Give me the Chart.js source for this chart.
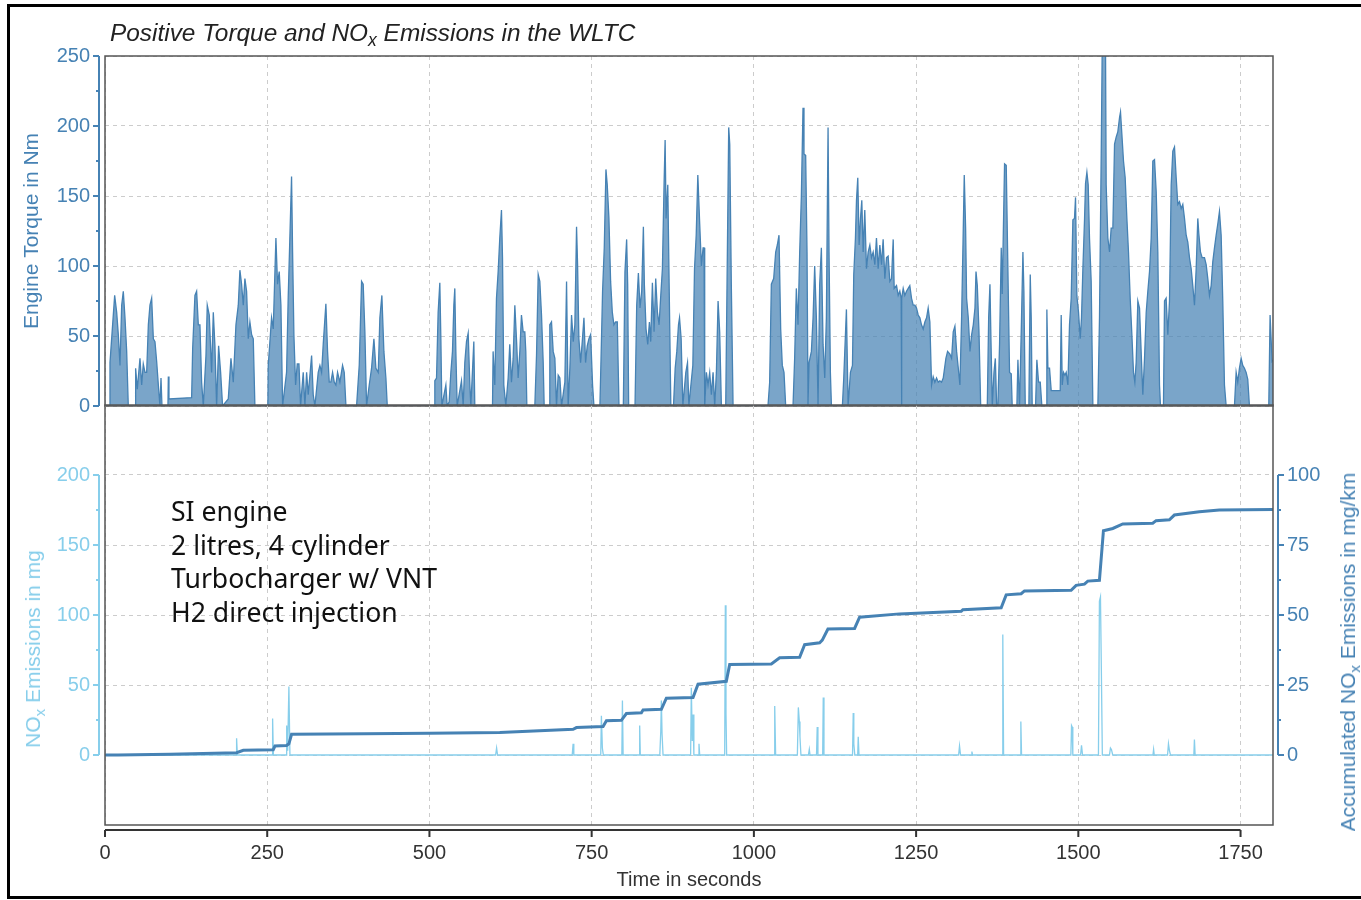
<!DOCTYPE html>
<html>
<head>
<meta charset="utf-8">
<script src="https://cdn.jsdelivr.net/npm/chart.js@4.4.1/dist/chart.umd.min.js"></script>
<style>
  html, body { margin: 0; padding: 0; background: #fff; }
  #page { position: relative; width: 1361px; height: 900px; overflow: hidden; background: #fff; }
  #frame { position: absolute; left: 7px; top: 4px; width: 1400px; height: 895px; border: 3px solid #000; box-sizing: border-box; }
  canvas { position: absolute; left: 0; }
  #top { top: 0; }
  #bot { top: 378px; }
  .txt { position: absolute; white-space: nowrap; font-family: "Liberation Sans", Arial, sans-serif; }
  #title { left: 110px; top: 21px; font-size: 24.4px; line-height: 24px; font-style: italic; color: #222; }
  .vlab { font-size: 21px; line-height: 24px; transform: translate(-50%, -50%) rotate(-90deg); }
  sub { font-size: 0.72em; vertical-align: -0.3em; line-height: 0; }
  #note { position: absolute; left: 171px; top: 495px; font-family: "Noto Sans", sans-serif; font-size: 26.6px; line-height: 33.5px; color: #111; white-space: nowrap; }
</style>
</head>
<body>
<div id="page">
  <div id="frame"></div>
  <canvas id="top" width="1361" height="433"></canvas>
  <canvas id="bot" width="1361" height="522"></canvas>
  <div id="title" class="txt">Positive Torque and NO<sub>x</sub> Emissions in the WLTC</div>
  <div class="txt vlab" style="left:33px; top:649px; color:#87ceeb;">NO<sub>x</sub> Emissions in mg</div>
  <div class="txt vlab" style="left:1348px; top:652px; color:#4682b4;">Accumulated NO<sub>x</sub> Emissions in mg/km</div>
  <div id="note">SI engine<br>2 litres, 4 cylinder<br>Turbocharger w/ VNT<br>H2 direct injection</div>
</div>
<script>
// tick values
const timeTicks = [0, 250, 500, 750, 1000, 1250, 1500, 1750];
const torqueTicks = [0, 50, 100, 150, 200, 250];
const noxTicks = [0, 50, 100, 150, 200];
const accTicks = [0, 25, 50, 75, 100];

// engine torque (Nm) over time (s)
const torqueTime = [
  0, 7, 7.7, 14.9, 18, 20.5, 23.1, 25.7, 28.2, 30.8, 33.4, 35.9,
  47, 47.2, 49.8, 53.9, 56.5, 59, 61.6, 64.2, 66.8, 69.3, 71.9, 74.5, 77, 79.6, 82.2, 84.7, 86.3, 87.8,
  97, 97.6, 98.6, 133.5, 135.1, 138.6, 141.2, 143.8, 146.3, 148.9, 151.5,
  155.6, 157.6, 160.7, 164.3, 166.9, 169.4, 172, 175.1, 178.2, 181.2,
  190, 194.1, 197.7, 201.8, 205.4, 207.9, 210.5, 213.1, 215.6, 218.2, 220.8, 223.3, 225.9, 228.5, 231,
  251, 251.6, 256.7, 259.3, 263.4, 265.9, 268.5, 271.1, 273.7,
  279.8, 282.4, 285, 287.5, 289.1, 291.1, 293.7, 296.3, 298.9, 301.4,
  305.5, 308.1, 310.7, 313.2, 318.4, 320.9, 323.5,
  328.6, 331.2, 333.8, 336.3, 340.4, 343, 345.6, 348.1, 350.7, 353.3, 355.8, 358.4, 362, 366.1, 368.7, 371.3,
  387.7, 391.8, 395.4, 397.9, 400.5, 403.1,
  407.2, 410.8, 414.4, 417.5, 421.1, 423.6, 426.7, 429.8, 432.9, 435,
  508, 508.3, 510.9, 513.4, 516, 517.6, 519.1,
  525.3, 527.3, 530.4, 533, 535.5, 537.6, 539.1, 540.7, 542.7,
  549.4, 552, 554.5, 557.1, 559.7, 562.3, 563.8, 568.4, 569.9,
  597.2, 598.1, 600.7, 603.3, 605.9, 608.4, 611, 612.6, 614.6, 617.7,
  621.3, 623.8, 626.4, 629, 631.6, 634.1, 636.7, 639.3, 641.8, 644.4, 647, 648.5, 650.1,
  662.4, 665, 667.6, 670.1, 672.7, 675.3, 676.8,
  684.5, 685.5, 688.1, 690.7, 693.3, 695.8, 698.4, 701, 703.6,
  708.7, 711.3, 713.8, 716.4, 719, 721.6, 724.1, 726.7, 728.3, 730.3, 732.9, 735.5, 738.1, 740.6, 743.2, 745.8, 748.4, 751.4, 753.5,
  762.7, 764.3, 766.8, 769.4, 772, 774, 776.6, 779.2, 781.8, 784.3, 786.9, 789.5, 792.1,
  798.8, 801.3, 803.9, 805.5, 807,
  816.8, 819.4, 822, 824.5, 827.1, 829.7, 831.2, 833.8, 836.4, 839, 841, 843.6, 846.2, 848.7, 851.3, 853.9, 856.5, 859, 861.6, 863.2, 864.7, 867.3, 869.4, 872,
  876.1, 878.7, 881.2, 883.8, 885.4, 887.9, 890.5, 895.1, 897.7, 899.8,
  905.9, 908.5, 911.1, 913.6, 916.5, 919.1, 921.7, 923.2, 924.2,
  926.8, 929.3, 931.9, 934.5, 937.1, 939.6, 942.2, 944.8, 947.3, 949.9,
  956.6, 958.7, 961.2, 962.8, 965.3, 967.9,
  1021.7, 1024.3, 1026.9, 1030.5, 1033.6, 1036.1, 1038.7, 1041.3, 1043.8, 1046.4, 1049,
  1060.3, 1062.8, 1065.4, 1068, 1070.6, 1073.1, 1075.7, 1077.2, 1079.8, 1081.9, 1083.4,
  1085, 1088.6, 1091.2, 1093.7, 1096.3, 1098.9, 1101.4, 1104, 1106.6, 1109.2, 1111.7, 1114.3, 1115.8, 1117.9, 1119.5,
  1136.4, 1138.5, 1142.6, 1145.2, 1148.8, 1151.9,
  1153.9, 1156.5, 1158.1, 1160.1, 1162.2, 1164.3, 1166.3, 1168.4, 1170.9, 1173.5, 1176.1, 1178.7, 1181.2, 1183.8, 1186.4, 1188.9, 1191.5, 1194.1, 1196.7, 1199.2,
  1201.8, 1204.4, 1206.9, 1209.5, 1212.1, 1214.7, 1216.2, 1219.8, 1222.4, 1224.9, 1227, 1227.5, 1228, 1230.1, 1232.6, 1235.2, 1237.8, 1240.3,
  1242.9, 1245.5, 1248.1, 1250.6, 1253.2, 1255.8, 1258.3, 1260.9, 1263.5, 1266.1, 1268.6, 1271.2, 1273.8,
  1276.3, 1278.9, 1281.5, 1284.1, 1286.6, 1289.2, 1291.8, 1295.9, 1298.5, 1302.1, 1304.7, 1307.2, 1309.8, 1312.4, 1315, 1317.5,
  1320.1, 1322.7, 1324.2, 1326.3, 1327.8, 1330.4, 1333, 1335.6, 1338.1, 1340.7, 1342.3, 1344.3, 1346.9, 1349.5,
  1359.7, 1361.8, 1363.8, 1365.4, 1367.4, 1370, 1372.1, 1374.1, 1376,
  1378.6, 1381.2, 1382.7, 1386.3, 1388.9, 1391.5, 1394, 1396.6, 1398.1,
  1405.3, 1406.9, 1409.4, 1412, 1414.6, 1416.1, 1418.2,
  1423.8, 1425.9, 1427.4, 1428.9, 1434.1, 1436.1, 1438.7, 1441.3, 1443.8,
  1450.5, 1451.5, 1453.1, 1455.6, 1458.2, 1472.1, 1473.6, 1475.2, 1477.2, 1479.3, 1481.3, 1483.9,
  1486.4, 1489, 1491.6, 1494.1, 1495.7, 1497.7, 1500.3, 1502.9, 1504.9, 1507, 1509.6, 1511.1, 1513.2, 1515.2, 1517.2, 1519.8, 1522.4,
  1530.1, 1532.6, 1535.2, 1536.8, 1539.3, 1541.9, 1542.9, 1545.5, 1548.1, 1550.6, 1553.2, 1555.8, 1558.3,
  1560.9, 1563.5, 1565, 1567.1, 1569.6, 1572.2, 1574.8, 1577.3, 1579.9, 1582.5, 1585, 1587.1,
  1589.1, 1591.7, 1594.3, 1596.8, 1599.4, 1602, 1604.6, 1607.1, 1609.7, 1612.3, 1614.8, 1617.4, 1620, 1622.5, 1625.1, 1626.6,
  1631.2, 1632.8, 1635.3, 1637.9, 1640.5, 1643.1, 1645.6, 1648.2, 1650.8, 1653.3, 1655.9, 1658.5, 1661, 1663.6, 1666.2, 1668.7, 1671.3, 1673.9, 1676.4, 1679,
  1681.6, 1684.1, 1685.7, 1688.2, 1690.8, 1694.4, 1697, 1699.5, 1702.1, 1704.7, 1707.2, 1709.8, 1712.4, 1714.9, 1717.5, 1720.1, 1722.6, 1725.2, 1727.8,
  1740.6, 1743.2, 1745.7, 1748.3, 1750.9, 1753.4, 1756, 1758.6, 1761.1, 1763.7, 1793.5, 1795.5, 1798.6, 1800
];
const torqueNm = [
  0, 0, 31, 79, 67, 51, 29, 72, 82, 63, 39, 0,
  0, 27, 12, 34, 15, 30, 24, 24, 58, 72, 77, 48, 46, 32, 15, 0, 20, 0,
  0, 21, 5, 6, 41, 79, 82, 58, 58, 17, 0,
  36, 72, 65, 24, 67, 43, 0, 43, 24, 0,
  5, 34, 17, 58, 72, 97, 87, 72, 91, 82, 48, 60, 51, 48, 0,
  0, 29, 63, 55, 120, 87, 96, 72, 0,
  24, 79, 122, 164, 110, 51, 15, 30, 30, 0,
  24, 0, 24, 8, 36, 8, 0,
  24, 29, 24, 44, 73, 39, 17, 17, 24, 17, 15, 24, 17, 29, 24, 0,
  0, 29, 89, 87, 53, 0,
  15, 27, 48, 27, 24, 63, 79, 39, 20, 0,
  0, 18, 20, 67, 88, 48, 0,
  15, 0, 3, 24, 39, 72, 84, 39, 0,
  18, 0, 31, 46, 52, 15, 0, 46, 0,
  0, 39, 15, 77, 96, 120, 140, 106, 15, 0,
  20, 44, 17, 34, 72, 48, 20, 39, 65, 53, 53, 39, 0,
  0, 36, 94, 89, 65, 31, 0,
  0, 58, 60, 39, 34, 0, 22, 20, 0,
  17, 89, 0, 27, 65, 46, 58, 128, 101, 48, 31, 46, 63, 31, 43, 48, 51, 15, 0,
  0, 31, 82, 113, 169, 158, 134, 89, 67, 58, 60, 60, 0,
  0, 96, 119, 87, 0,
  0, 72, 95, 70, 82, 128, 87, 55, 44, 60, 46, 88, 53, 91, 67, 58, 79, 98, 159, 190, 134, 158, 87, 0,
  0, 27, 39, 58, 63, 48, 0, 24, 31, 0,
  29, 98, 122, 165, 130, 100, 113, 113, 0,
  24, 15, 24, 8, 24, 0, 24, 75, 53, 0,
  0, 91, 199, 187, 84, 0,
  0, 17, 87, 91, 110, 115, 122, 55, 29, 24, 0,
  0, 34, 84, 58, 110, 149, 213, 180, 179, 110, 0,
  31, 39, 63, 100, 63, 0, 87, 113, 44, 20, 63, 199, 110, 24, 0,
  0, 20, 69, 0, 24, 29,
  94, 120, 147, 163, 115, 134, 147, 110, 140, 98, 110, 115, 106, 110, 101, 120, 98, 115, 101, 119,
  91, 106, 107, 89, 91, 119, 84, 86, 79, 82, 77, 0, 77, 84, 79, 82, 84, 86,
  77, 72, 72, 70, 65, 63, 58, 55, 60, 63, 70, 60, 15,
  21, 17, 20, 17, 18, 17, 20, 34, 39, 37, 34, 53, 57, 39, 27, 15,
  63, 127, 165, 127, 77, 63, 39, 51, 58, 70, 96, 86, 53, 0,
  0, 63, 87, 46, 0, 24, 34, 0, 0,
  44, 113, 80, 173, 172, 96, 24, 23, 0,
  0, 33, 0, 53, 110, 82, 0,
  0, 94, 63, 0, 0, 33, 17, 17, 0,
  0, 69, 27, 27, 11, 11, 65, 15, 24, 22, 24, 15,
  58, 77, 133, 134, 149, 79, 67, 48, 63, 98, 134, 159, 167, 158, 120, 89, 0,
  0, 63, 177, 255, 255, 255, 158, 120, 110, 127, 127, 187, 192,
  196, 206, 210, 194, 175, 163, 134, 110, 77, 51, 24, 17,
  31, 75, 70, 39, 8, 34, 67, 82, 96, 120, 175, 176, 153, 110, 15, 0,
  0, 75, 77, 51, 75, 158, 182, 185, 163, 144, 146, 141, 144, 134, 122, 117, 106, 98, 86, 72,
  98, 134, 123, 110, 106, 106, 101, 91, 79, 86, 103, 113, 122, 130, 139, 122, 75, 15, 0,
  0, 24, 17, 27, 34, 29, 27, 24, 19, 0, 0, 65, 32, 33
];

// NOx emissions (mg) per second
const noxTime = [
  0, 202, 202.8, 204, 257.5, 258.3, 259.5, 279, 280, 281.5, 283.4, 285,
  602, 603.5, 605, 720, 721.4, 722.5, 764, 765, 766.5, 768, 796.5, 797.4, 798.5, 823, 824, 825,
  855, 856.5, 857.4, 858.5, 860, 902.5, 903.6, 905, 906.2, 907.5, 914.5, 915.4, 916.5, 955, 956, 957, 958,
  1031, 1032.1, 1033.5, 1067, 1068.5, 1070, 1071, 1072.5, 1084, 1085.4, 1086.5, 1096.5, 1097.6, 1098.7,
  1106, 1106.9, 1108, 1152, 1153.1, 1154, 1155.5, 1160, 1160.8, 1162,
  1315.5, 1316.9, 1318.5, 1335, 1336, 1337, 1382.5, 1383.6, 1384.8, 1410.5, 1411.4, 1412.5,
  1488.5, 1489.5, 1490.5, 1491.5, 1503.5, 1504.9, 1506.5, 1531, 1532.5, 1534.1, 1535.5, 1537,
  1548, 1549.5, 1551, 1553, 1615, 1616, 1617, 1637.5, 1638.9, 1640.5, 1642, 1678, 1678.9, 1680, 1800
];
const noxMg = [
  0, 0, 12, 0, 0, 26, 0, 0, 21, 3, 49, 0,
  0, 5, 0, 0, 8, 0, 0, 28, 5, 0, 0, 39, 0, 0, 21, 0,
  0, 17, 39, 15, 0, 0, 48, 10, 29, 0, 0, 8, 0, 0, 107, 30, 0,
  0, 35, 0, 0, 34, 24, 13, 0, 0, 4, 0, 0, 20, 0,
  0, 41, 0, 0, 30, 8, 0, 0, 13, 0,
  0, 6.5, 0, 0, 2.5, 0, 0, 86, 0, 0, 24, 0,
  0, 21, 20, 0, 0, 7, 0, 0, 110, 113, 60, 0,
  0, 5, 4, 0, 0, 4, 0, 0, 8, 3, 0, 0, 11, 0, 0
];

// accumulated NOx (mg/km)
const accTime = [
  0, 20, 100, 202.8, 213.1, 259.3, 261.9, 279.8, 283.4, 287.5,
  400, 500, 608.4, 721.4, 726.5, 767.6, 772.7, 795.8, 803.5, 826.6, 829.2, 857.4, 865.1,
  906.2, 913.9, 957.5, 962.7, 1026.9, 1039.7, 1070.5, 1078.2, 1101.3, 1105.4, 1114.1, 1155.2, 1162.9, 1224.5,
  1319.5, 1322.1, 1381.1, 1388.8, 1411.9, 1417, 1488.9, 1496.6, 1509.4, 1514.6, 1532.5, 1538.7, 1553.1, 1568.5,
  1614.7, 1619.8, 1640.3, 1648, 1686.5, 1717.3, 1800
];
const accMgKm = [
  0, 0, 0.3, 0.8, 1.7, 1.9, 3.2, 3.4, 4.0, 7.4,
  7.6, 7.8, 8.0, 9.2, 9.8, 10.2, 12.2, 12.4, 14.8, 15.1, 16.1, 16.3, 20.3,
  20.5, 25.3, 26.3, 32.3, 32.5, 34.7, 34.9, 39.4, 40.1, 41, 45, 45.2, 49.2, 50.4,
  51.3, 51.9, 52.6, 57.2, 57.6, 58.6, 58.8, 60.6, 61, 62.1, 62.4, 80.1, 80.9, 82.5,
  82.8, 83.7, 84, 85.7, 86.9, 87.5, 87.7
];

const steel = '#4682b4';
const sky = '#87ceeb';
const gridColor = '#cccccc';
const fam = '"Liberation Sans", Arial, sans-serif';

function pts(xs, ys) {
  return xs.map((x, i) => ({ x: x, y: ys[i] }));
}
function fixTicks(list) {
  return function (scale) { scale.ticks = list.map(v => ({ value: v })); };
}
const plain = v => String(v);

// R-style axis lines set a few pixels off the plot frame
function drawAxis(chart, ax) {
  const ctx = chart.ctx, s = chart.scales[ax.id], a = chart.chartArea, t = ax.ticks;
  ctx.strokeStyle = ax.color;
  ctx.lineWidth = 2;
  ctx.beginPath();
  if (ax.side === 'bottom') {
    const y = a.bottom + 5;
    ctx.moveTo(s.getPixelForValue(t[0]), y);
    ctx.lineTo(s.getPixelForValue(t[t.length - 1]), y);
    t.forEach(v => { const x = s.getPixelForValue(v); ctx.moveTo(x, y); ctx.lineTo(x, y + 7); });
  } else {
    const left = ax.side === 'left';
    const x = left ? a.left - 6 : a.right + 5;
    const dir = left ? -1 : 1;
    ctx.moveTo(x, s.getPixelForValue(t[0]));
    ctx.lineTo(x, s.getPixelForValue(t[t.length - 1]));
    t.forEach(v => { const y = s.getPixelForValue(v); ctx.moveTo(x, y); ctx.lineTo(x + dir * 6, y); });
    for (let i = 0; i < t.length - 1; i++) {
      const y = s.getPixelForValue((t[i] + t[i + 1]) / 2);
      ctx.moveTo(x, y); ctx.lineTo(x + dir * 3, y);
    }
  }
  ctx.stroke();
}

const panelDecor = {
  id: 'panelDecor',
  afterDraw(chart, args, opts) {
    const { ctx, chartArea: a } = chart;
    ctx.save();
    ctx.strokeStyle = '#555';
    ctx.lineWidth = 1.5;
    ctx.strokeRect(a.left, a.top, a.right - a.left, a.bottom - a.top);
    (opts.axes || []).forEach(ax => drawAxis(chart, ax));
    ctx.restore();
  }
};

const gridOpts = { color: gridColor, lineWidth: 1, drawTicks: false };
const borderOpts = { display: false, dash: [4, 4] };
const tickFont = { family: fam, size: 20 };

// upper panel: torque
new Chart(document.getElementById('top'), {
  type: 'line',
  data: {
    datasets: [{
      data: pts(torqueTime, torqueNm),
      borderColor: steel,
      borderWidth: 1.3,
      backgroundColor: 'rgba(70,130,180,0.72)',
      fill: 'origin',
      pointRadius: 0,
      tension: 0
    }]
  },
  options: {
    responsive: false,
    animation: false,
    events: [],
    layout: { padding: { left: 0, right: 88, top: 56, bottom: 2 } },
    plugins: {
      legend: { display: false },
      tooltip: { enabled: false },
      panelDecor: { axes: [{ id: 'y', side: 'left', color: steel, ticks: torqueTicks }] }
    },
    scales: {
      x: {
        type: 'linear', min: 0, max: 1800,
        afterBuildTicks: fixTicks(timeTicks),
        afterFit: s => { s.height = 0; },
        ticks: { display: false },
        grid: gridOpts, border: borderOpts
      },
      y: {
        min: 0, max: 250,
        afterBuildTicks: fixTicks(torqueTicks),
        afterFit: s => { s.width = 105; },
        ticks: { color: steel, font: tickFont, padding: 15, callback: plain },
        grid: gridOpts, border: borderOpts,
        title: {
          display: true, text: 'Engine Torque in Nm', color: steel,
          font: { family: fam, size: 21, lineHeight: 1.2 }, padding: { top: 20, bottom: 0 }
        }
      }
    }
  },
  plugins: [panelDecor]
});

// lower panel: NOx per second and accumulated NOx
new Chart(document.getElementById('bot'), {
  type: 'line',
  data: {
    datasets: [{
      data: pts(accTime, accMgKm),
      yAxisID: 'yA',
      borderColor: steel,
      borderWidth: 3,
      pointRadius: 0,
      fill: false,
      tension: 0
    }, {
      data: pts(noxTime, noxMg),
      yAxisID: 'yN',
      borderColor: sky,
      borderWidth: 1.3,
      pointRadius: 0,
      fill: false,
      tension: 0
    }]
  },
  options: {
    responsive: false,
    animation: false,
    events: [],
    layout: { padding: { left: 0, right: 0, top: 3, bottom: 5 } },
    plugins: {
      legend: { display: false },
      tooltip: { enabled: false },
      panelDecor: {
        axes: [
          { id: 'yN', side: 'left', color: sky, ticks: noxTicks },
          { id: 'yA', side: 'right', color: steel, ticks: accTicks },
          { id: 'x', side: 'bottom', color: '#333', ticks: timeTicks }
        ]
      }
    },
    scales: {
      x: {
        type: 'linear', min: 0, max: 1800,
        afterBuildTicks: fixTicks(timeTicks),
        afterFit: s => { s.height = 70; },
        ticks: { color: '#333', font: tickFont, padding: 16, maxRotation: 0, callback: plain },
        grid: gridOpts, border: borderOpts,
        title: {
          display: true, text: 'Time in seconds', color: '#333',
          font: { family: fam, size: 20, lineHeight: 1.2 }, padding: { top: 0, bottom: 3 }
        }
      },
      yN: {
        position: 'left', min: -50, max: 250,
        afterBuildTicks: fixTicks(noxTicks),
        afterFit: s => { s.width = 105; },
        ticks: { color: sky, font: tickFont, padding: 15, callback: plain },
        grid: gridOpts, border: borderOpts
      },
      yA: {
        position: 'right', min: -25, max: 125,
        afterBuildTicks: fixTicks(accTicks),
        afterFit: s => { s.width = 88; },
        ticks: { color: steel, font: tickFont, padding: 14, callback: plain },
        grid: { display: false, drawTicks: false }, border: { display: false }
      }
    }
  },
  plugins: [panelDecor]
});
</script>
</body>
</html>
